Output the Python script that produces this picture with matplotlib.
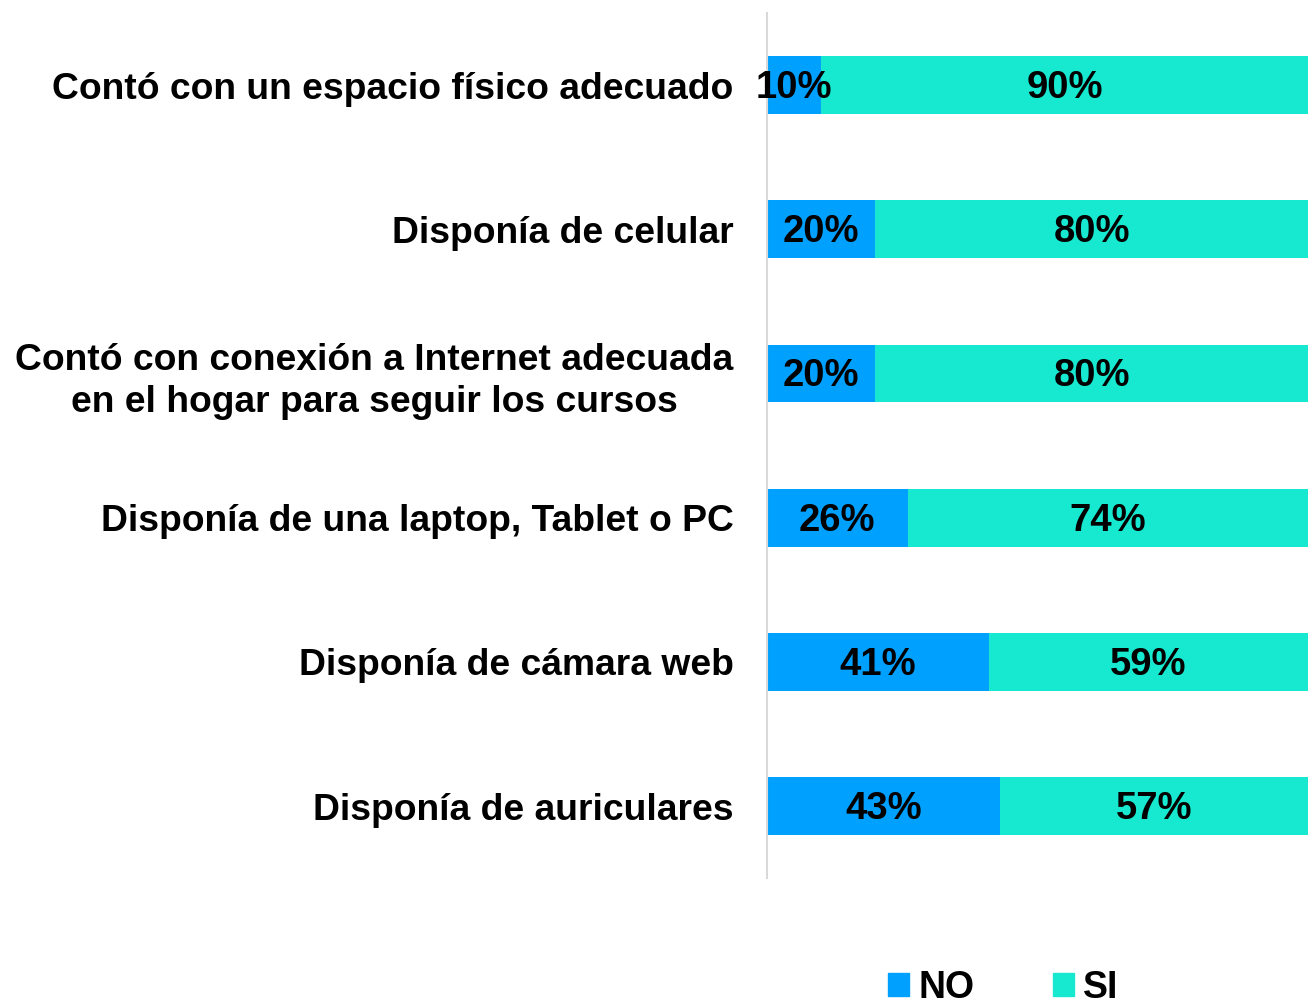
import matplotlib
matplotlib.use("Agg")
import matplotlib.pyplot as plt
from matplotlib.patches import Patch

categories = [
    "Contó con un espacio físico adecuado",
    "Disponía de celular",
    "Contó con conexión a Internet adecuada\nen el hogar para seguir los cursos",
    "Disponía de una laptop, Tablet o PC",
    "Disponía de cámara web",
    "Disponía de auriculares",
]
no_values = [10, 20, 20, 26, 41, 43]
si_values = [90, 80, 80, 74, 59, 57]
series_names = ["NO", "SI"]
colors = ["#00A0FF", "#17E8D0"]

plt.rcParams['font.family'] = ['Liberation Sans', 'DejaVu Sans']

fig = plt.figure(figsize=(13.08, 9.98), dpi=100)
ax = fig.add_axes([0.5864, 0.120, 0.4136, 0.867])

y = list(range(len(categories)))
b1 = ax.barh(y, no_values, height=0.4, color=colors[0], label=series_names[0])
b2 = ax.barh(y, si_values, left=no_values, height=0.4, color=colors[1], label=series_names[1])

for vals, lefts in [(no_values, [0]*len(no_values)), (si_values, no_values)]:
    for yi, v, l in zip(y, vals, lefts):
        ax.text(l + v / 2, yi + 0.02, f"{v}%", ha='center', va='center',
                fontsize=27.5, fontweight='bold', color='black')

ax.set_xlim(0, 100)
ax.set_ylim(len(categories) - 0.5, -0.5)
ax.set_yticks(y)
ax.set_yticklabels(categories, fontsize=26.8, fontweight='bold', multialignment='center',
                   linespacing=1.28)
ax.tick_params(axis='y', length=0, pad=24)
ax.set_xticks([])
for s in ['top', 'right', 'bottom']:
    ax.spines[s].set_visible(False)
ax.spines['left'].set_color('#D9D9D9')
ax.spines['left'].set_linewidth(1.5)

handles = [Patch(color=colors[0], label=series_names[0]),
           Patch(color=colors[1], label=series_names[1])]
fig.legend(handles=handles, loc='center', bbox_to_anchor=(0.767, 0.010), ncol=2,
           frameon=False, prop={'size': 27, 'weight': 'bold'},
           handlelength=0.55, handleheight=0.55, handletextpad=0.25, columnspacing=2.1)

fig.savefig("out.png", dpi=100)
